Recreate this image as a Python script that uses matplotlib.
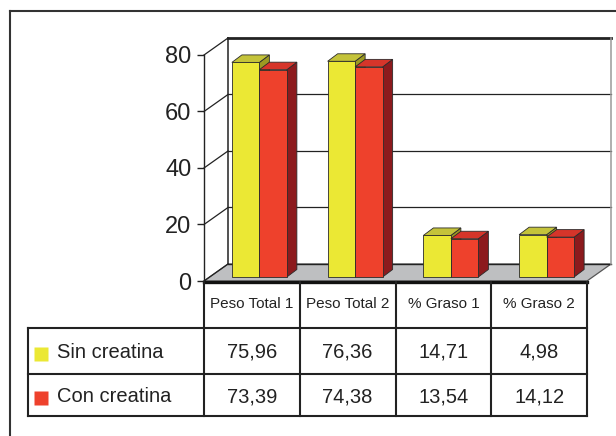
#!/usr/bin/env python3
"""
plot.py

3-D style grouped bar chart (Sin / Con creatina) with the data table
underneath, saved as out.png.
"""

import matplotlib
matplotlib.use("Agg")
import matplotlib.pyplot as plt
from matplotlib.patches import Polygon
from matplotlib.lines import Line2D


# ------------------------
# Data
# ------------------------

categories = ["Peso Total 1", "Peso Total 2", "% Graso 1", "% Graso 2"]
series_names = ["Sin creatina", "Con creatina"]
sin_creatina = [75.96, 76.36, 14.71, 14.98]
con_creatina = [73.39, 74.38, 13.54, 14.12]
# values as printed in the table of the source (its "4,98" kept as printed)
sin_labels = ["75,96", "76,36", "14,71", "4,98"]
con_labels = ["73,39", "74,38", "13,54", "14,12"]
y_ticks = [0, 20, 40, 60, 80]

# front / top / side face colours
YELLOW = ("#ebe834", "#c4c33a", "#9c9a22")
RED = ("#ee412c", "#d6352a", "#8c1a1d")
INK = "#222222"

plt.rcParams["font.family"] = ["Liberation Sans", "DejaVu Sans"]

W, H = 616, 436
fig = plt.figure(figsize=(W / 100, H / 100), dpi=100)

# front plane of the 3-D box
ax = fig.add_axes([204 / W, 155 / H, 383 / W, 226 / H])
x0, x1 = -0.5, len(categories) - 0.5
ax.set_xlim(x0, x1)
ax.set_ylim(y_ticks[0], y_ticks[-1])
ax.patch.set_visible(False)
for s in ["top", "right", "bottom"]:
    ax.spines[s].set_visible(False)
ax.spines["left"].set_linewidth(1.0)
ax.spines["left"].set_color(INK)
ax.set_xticks([])
ax.set_yticks(y_ticks)
ax.tick_params(axis="y", direction="out", length=5, width=1.0, pad=4,
               labelsize=17, colors=INK)


def px_to_data(dx, dy):
    """Pixel offset -> data offset on the front plane."""
    ox, oy = ax.transData.transform((0, 0))
    return ax.transData.inverted().transform((ox + dx, oy + dy))


wall_dx, wall_dy = px_to_data(24, 17)

# floor
ax.add_patch(Polygon([(x0, 0), (x1, 0), (x1 + wall_dx, wall_dy), (x0 + wall_dx, wall_dy)],
                     closed=True, fc="#bebfc1", ec="#555555", lw=0.9,
                     clip_on=False, zorder=1))

# back wall grid
for v in y_ticks[1:-1]:
    ax.plot([x0 + wall_dx, x1 + wall_dx], [v + wall_dy] * 2, color=INK, lw=0.9,
            clip_on=False, zorder=2)
ax.plot([x0 + wall_dx, x1 + wall_dx], [y_ticks[-1] + wall_dy] * 2, color=INK, lw=2.0,
        clip_on=False, zorder=2)
ax.plot([x0 + wall_dx, x1 + wall_dx], [wall_dy] * 2, color=INK, lw=1.0,
        clip_on=False, zorder=2)
ax.plot([x0 + wall_dx] * 2, [wall_dy, y_ticks[-1] + wall_dy], color=INK, lw=1.1,
        clip_on=False, zorder=2)
ax.plot([x1 + wall_dx] * 2, [wall_dy, y_ticks[-1] + wall_dy], color="#9a9a9a", lw=1.1,
        clip_on=False, zorder=2)

# side wall diagonals
for v in y_ticks:
    ax.plot([x0, x0 + wall_dx], [v, v + wall_dy], color=INK, lw=0.9,
            clip_on=False, zorder=2)

# bars
bar_w = px_to_data(27.5, 0)[0]
fx, fy = px_to_data(7.5, 4)
bx, by = px_to_data(10, 7.5)


def draw_bar(left, h, colors):
    front, top, side = colors
    xl = left + fx
    xr = xl + bar_w
    yb, yt = fy, h + fy
    kw = dict(closed=True, ec="#2a2a2a", lw=0.6, clip_on=False, zorder=3)
    ax.add_patch(Polygon([(xr, yb), (xr + bx, yb + by), (xr + bx, yt + by), (xr, yt)],
                         fc=side, **kw))
    ax.add_patch(Polygon([(xl, yt), (xr, yt), (xr + bx, yt + by), (xl + bx, yt + by)],
                         fc=top, **kw))
    ax.bar(xl, h, width=bar_w, bottom=yb, align="edge", color=front,
           edgecolor="#2a2a2a", linewidth=0.6, clip_on=False, zorder=3)


for i in range(len(categories)):
    draw_bar(i - bar_w, sin_creatina[i], YELLOW)
    draw_bar(i, con_creatina[i], RED)

# ------------------------
# Data table
# ------------------------

label_w = (204 - 28) / 95.75  # label column, in category widths
tab = fig.add_axes([28 / W, 20 / H, 559 / W, 134 / H])
tab.set_xlim(x0 - label_w, x1)
tab.set_ylim(2.9, 0)
tab.axis("off")

xl_tab = x0 - label_w
line_kw = dict(color=INK, lw=1.5, clip_on=False, solid_capstyle="projecting")
tab.plot([x0, x1], [0, 0], color="#111111", lw=2.4, clip_on=False,
         solid_capstyle="projecting")
for xe in [x0 + k for k in range(len(categories) + 1)]:
    tab.plot([xe, xe], [0, 2.9], **line_kw)
tab.plot([xl_tab, xl_tab], [1, 2.9], **line_kw)
for ye in [1, 2, 2.9]:
    tab.plot([xl_tab, x1], [ye, ye], **line_kw)

for i, c in enumerate(categories):
    tab.text(i, 0.47, c, ha="center", va="center", fontsize=11, color=INK)
    tab.text(i, 1.52, sin_labels[i], ha="center", va="center", fontsize=14.5, color=INK)
    tab.text(i, 2.48, con_labels[i], ha="center", va="center", fontsize=14.5, color=INK)

for row_y, name, colors in [(1.52, series_names[0], YELLOW), (2.48, series_names[1], RED)]:
    tab.plot([xl_tab + 0.135], [row_y + 0.04], marker="s", ms=10, color=colors[0],
             mec="none", clip_on=False)
    tab.text(xl_tab + 0.3, row_y, name, ha="left", va="center", fontsize=14.5, color=INK)

# outer frame (left and top only are visible in the picture)
fig.add_artist(Line2D([10 / W, 10 / W], [0, 1 - 11 / H], transform=fig.transFigure,
                      color="#333333", lw=1.5))
fig.add_artist(Line2D([10 / W, 1], [1 - 11 / H, 1 - 11 / H], transform=fig.transFigure,
                      color="#333333", lw=1.5))

fig.savefig("out.png", dpi=100)
plt.close(fig)
